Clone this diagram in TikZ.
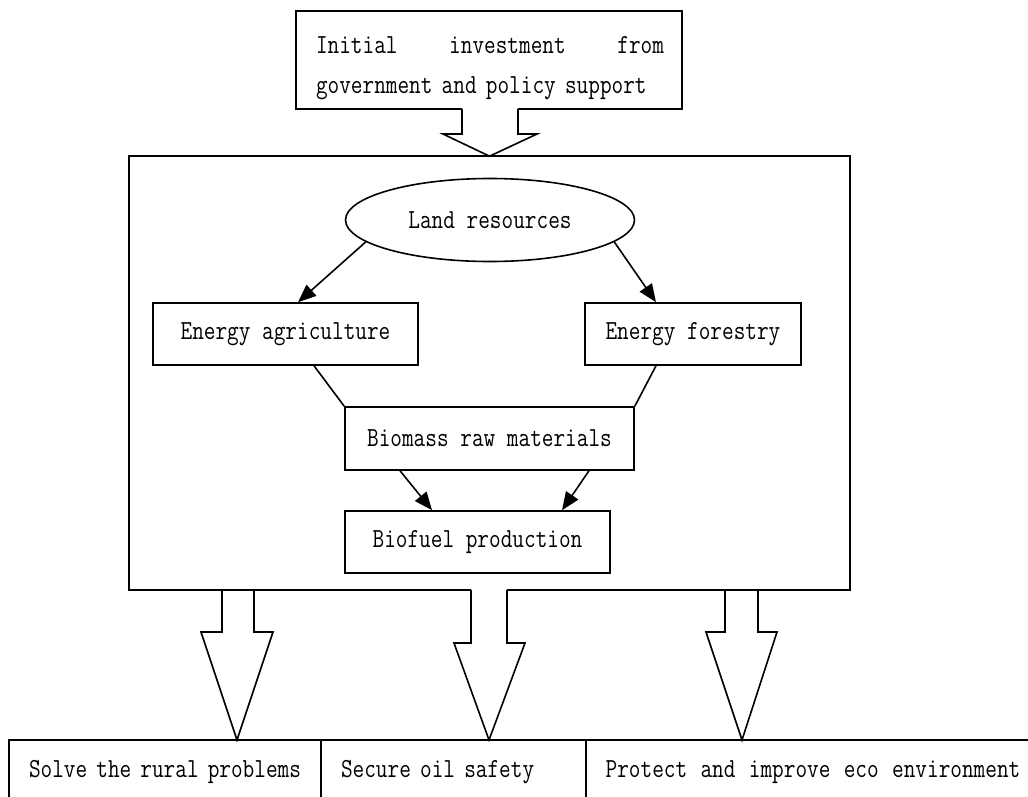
\documentclass[tikz,border=0pt]{standalone}
\usepackage{fontspec}
\newfontfamily\dgfont[FakeStretch=0.82]{Latin Modern Mono}
\usetikzlibrary{arrows.meta,shapes.geometric,calc}
\begin{document}
\begin{tikzpicture}[x=0.75pt,y=-0.75pt,line width=1.2pt,
  txt/.style={font=\dgfont\fontsize{20.7}{30}\selectfont},
  box/.style={draw,rectangle,inner sep=0pt,txt},
  conn/.style={-{Triangle[length=13.5pt,width=11pt]}}]
\useasboundingbox (0,0) rectangle (1028,796);

% top box
\node[inner sep=0pt,minimum width=288pt,minimum height=72pt] (top) at (489,60) {};
\node[txt,inner sep=0pt,text width=261pt,align=left] (toptext) at (490,68)
  {Initial\hfill investment\hfill from\\government and policy support};
\draw ([xshift=-20.25pt]top.south) -- (top.south west) -- (top.north west)
  -- (top.north east) -- (top.south east) -- ([xshift=21.75pt]top.south);

% big box
\node[inner sep=0pt,minimum width=539.25pt,minimum height=324pt] (big) at (489.5,373) {};
\draw ([xshift=-13.875pt]big.south) -- (big.south west) -- (big.north west)
  -- (big.north east) -- (big.south east) -- ([xshift=13.125pt]big.south);

% top block arrow
\draw ([xshift=-20.25pt]top.south) |- (443,134) -- (big.north) -- (537,134)
  -| ([xshift=21.75pt]top.south);

% inner nodes
\node[draw,ellipse,inner sep=0pt,minimum width=216.75pt,minimum height=62.25pt,txt]
  (land) at (490,220) {Land resources};
\node[box,minimum width=198.75pt,minimum height=46.5pt] (ea) at (285.5,334) {Energy agriculture};
\node[box,minimum width=162pt,minimum height=46.5pt] (ef) at (693,334) {Energy forestry};
\node[box,minimum width=216.75pt,minimum height=47.25pt] (bio) at (489.5,438.5) {Biomass raw materials};
\node[box,minimum width=198.75pt,minimum height=46.5pt] (fuel) at (477.5,542) {Biofuel production};

\draw[conn] (land.190) -- ([xshift=9.4pt]ea.north);
\draw[conn] (land.350) -- ([xshift=-27.75pt]ef.north);
\draw ([xshift=21.4pt]ea.south) -- (bio.north west);
\draw ([xshift=-27.75pt]ef.south) -- (bio.north east);
\draw[conn] ([xshift=-67.1pt]bio.south) -- ([xshift=-34.1pt]fuel.north);
\draw[conn] ([xshift=74.6pt]bio.south) -- ([xshift=63.4pt]fuel.north);

% bottom row
\node[box,minimum width=234pt,minimum height=48pt]
  (r1) at (165,772) {\makebox[204pt][s]{Solve the rural problems}};
\node[box,minimum width=198.75pt,minimum height=48pt,text width=168.75pt,align=left]
  (r2) at (453.5,772) {Secure oil safety};
\node[box,minimum width=340.5pt,minimum height=48pt]
  (r3) at (813,772) {\makebox[311pt][s]{Protect and improve eco environment}};

% bottom block arrows
\draw (222,589) -- (222,632) -- (201,632) -- (237,740) -- (273,632) -- (254,632) -- (254,589);
\draw ([xshift=-13.875pt]big.south) -- (471,643) -- (454,643) -- (489,740) -- (525,643)
  -- (507,643) -- ([xshift=13.125pt]big.south);
\draw (725,589) -- (725,632) -- (706,632) -- (742,740) -- (777,632) -- (758,632) -- (758,589);
\end{tikzpicture}
\end{document}
